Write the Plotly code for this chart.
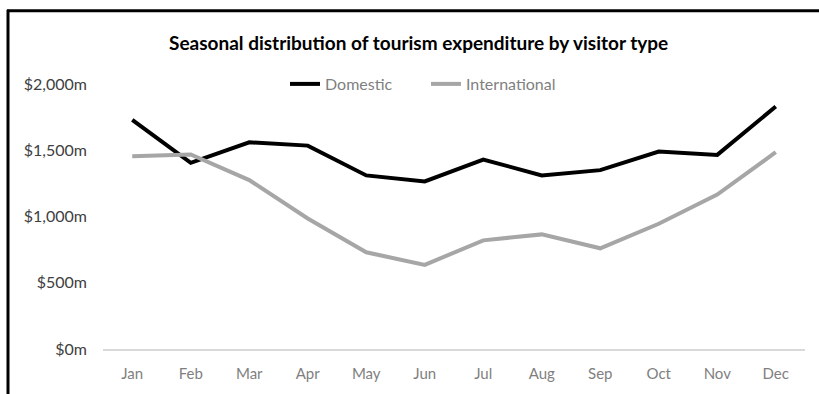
import plotly.graph_objects as go

months = ["Jan", "Feb", "Mar", "Apr", "May", "Jun", "Jul", "Aug", "Sep", "Oct", "Nov", "Dec"]
domestic = [1730, 1405, 1560, 1535, 1310, 1265, 1430, 1310, 1350, 1490, 1465, 1830]
international = [1455, 1468, 1275, 985, 730, 635, 820, 865, 760, 945, 1165, 1485]
yticks = [0, 500, 1000, 1500, 2000]
ytick_labels = ["$0m", "$500m", "$1,000m", "$1,500m", "$2,000m"]

W, H = 819, 394
L, R, T, B = 103, 14, 84, 42
pw, ph = W - L - R, H - T - B

def px(x):
    return (x - L) / pw

def py(y):
    return (H - B - y) / ph

fig = go.Figure()
fig.add_trace(go.Scatter(x=months, y=domestic, name="Domestic", mode="lines",
                         line=dict(color="#000000", width=4)))
fig.add_trace(go.Scatter(x=months, y=international, name="International", mode="lines",
                         line=dict(color="#a6a6a6", width=4)))

fig.update_layout(
    width=W, height=H,
    margin=dict(l=L, r=R, t=T, b=B),
    paper_bgcolor="white", plot_bgcolor="white",
    font=dict(family="Lato", size=15, color="#595959"),
    showlegend=True,
    legend=dict(orientation="h", x=px(426), xanchor="center", y=py(84), yanchor="middle",
                font=dict(size=16, color="#7f7f7f"), bgcolor="rgba(0,0,0,0)",
                itemwidth=30, tracegroupgap=0, entrywidth=96, entrywidthmode="pixels"),
    xaxis=dict(showgrid=False, showline=True, linecolor="#d9d9d9", linewidth=1.5,
               ticks="", tickfont=dict(size=15, color="#7f7f7f"), zeroline=False,
               range=[-0.5, 11.5], ticklabelstandoff=10),
    yaxis=dict(range=[0, 2000], tickvals=yticks, ticktext=ytick_labels, showgrid=False,
               showline=False, zeroline=False, ticks="", ticklabelstandoff=15,
               tickfont=dict(size=16, color="#404040")),
    annotations=[dict(text="<b>Seasonal distribution of tourism expenditure by visitor type</b>",
                      xref="paper", yref="paper", x=px(418), y=py(42), xanchor="center",
                      yanchor="middle", showarrow=False,
                      font=dict(size=19, color="#000000", family="Lato"))],
    shapes=[
        dict(type="line", xref="paper", yref="paper", x0=px(7), x1=px(830), y0=py(10), y1=py(10),
             line=dict(color="#000000", width=3)),
        dict(type="line", xref="paper", yref="paper", x0=px(8), x1=px(8), y0=py(9), y1=py(400),
             line=dict(color="#000000", width=3)),
    ],
)

fig.write_html("out.html")
